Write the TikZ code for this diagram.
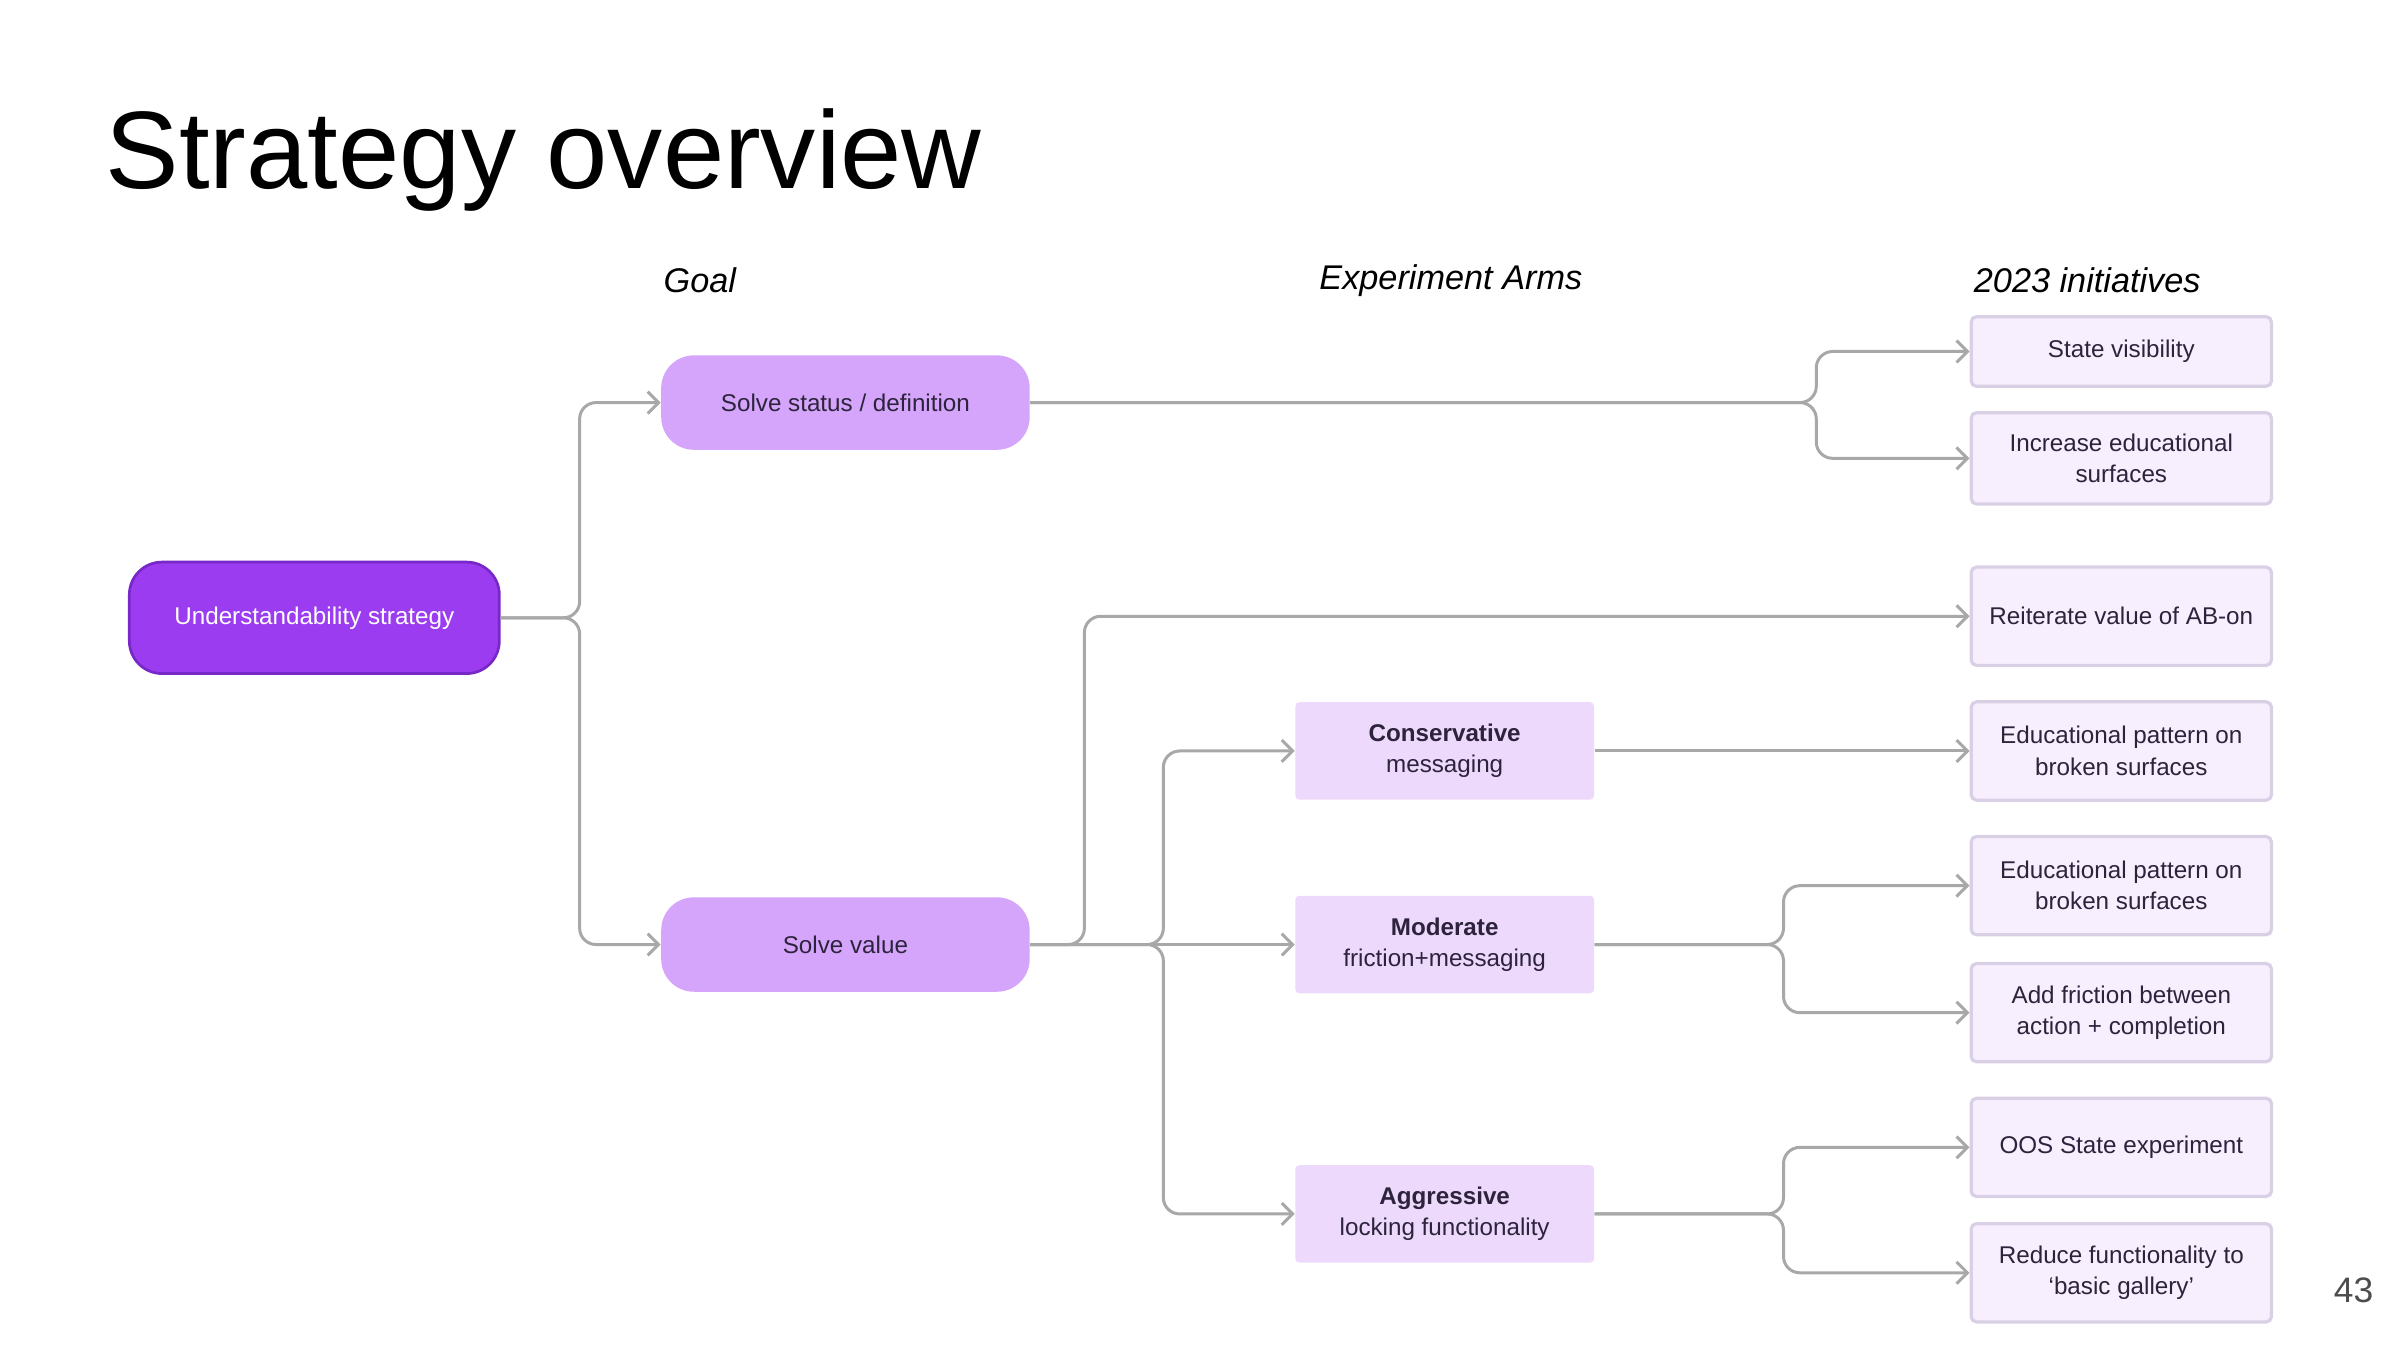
\documentclass[tikz,border=0pt]{standalone}
\usepackage{fontspec}
\setmainfont{Liberation Sans}
\usetikzlibrary{arrows.meta, positioning}
\definecolor{rootpurple}{RGB}{155,60,240}
\definecolor{rootedge}{RGB}{120,40,200}
\definecolor{goalpurple}{RGB}{212,165,250}
\definecolor{armpurple}{RGB}{237,217,251}
\definecolor{initfill}{RGB}{247,239,253}
\definecolor{initedge}{RGB}{218,208,230}
\definecolor{linkgray}{RGB}{168,168,168}
\definecolor{boxtext}{RGB}{45,35,60}
\tikzset{boxtxt/.style={font=\fontsize{8.9}{11.5}\selectfont, text=boxtext, align=center, inner sep=1pt}}
\tikzset{rootbox/.style={boxtxt, text=white, fill=rootpurple, draw=rootedge, line width=1pt, rounded corners=12pt, minimum width=4.78cm, minimum height=1.44cm}}
\tikzset{goalbox/.style={boxtxt, fill=goalpurple, rounded corners=12pt, minimum width=4.76cm, minimum height=1.22cm}}
\tikzset{armbox/.style={boxtxt, fill=armpurple, rounded corners=1.5pt, minimum width=3.86cm, minimum height=1.26cm}}
\tikzset{initbox/.style={boxtxt, fill=initfill, draw=initedge, line width=1.2pt, rounded corners=2pt, minimum width=3.88cm, minimum height=1.27cm}}
\tikzset{header/.style={font=\fontsize{12.6}{14}\selectfont\itshape, inner sep=0pt}}
\tikzset{link/.style={draw=linkgray, line width=1.1pt, rounded corners=6pt, -{Straight Barb[length=4pt, width=8pt]}}}

\begin{document}
\begin{tikzpicture}[x=0.02cm, y=-0.02cm]

  \useasboundingbox (0,0) rectangle (1550,872);

  % --- title and headers ---
  \node[anchor=base west, font=\fontsize{40.5}{44}\selectfont, inner sep=0pt] (title) at (68,122) {Strategy overview};
  \node[header] (hgoal) at (452,181) {Goal};
  \node[header] (harms) at (937,181) {Experiment Arms};
  \node[header] (hinit) at (1348,181) {2023 initiatives};
  \node[font=\fontsize{13}{14}\selectfont, text=black!70, inner sep=0pt] (page) at (1520,833) {43};

  % --- strategy and goals ---
  \node[rootbox] (root) at (203,399) {Understandability strategy};
  \node[goalbox] (status) at (546,260) {Solve status / definition};
  \node[goalbox] (value) at (546,610) {Solve value};

  % --- experiment arms ---
  \node[armbox] (cons) at (933,485) {\textbf{Conservative}\\messaging};
  \node[armbox] (mod) at (933,610) {\textbf{Moderate}\\friction+messaging};
  \node[armbox] (aggr) at (933,784) {\textbf{Aggressive}\\locking functionality};

  % --- 2023 initiatives ---
  \node[initbox, minimum height=0.9cm] (vis) at (1370,227) {State visibility};
  \node[initbox, minimum height=1.18cm] (edusurf) at (1370,296) {Increase educational\\surfaces};
  \node[initbox] (reit) at (1370,398) {Reiterate value of AB-on};
  \node[initbox] (edua) at (1370,485) {Educational pattern on\\broken surfaces};
  \node[initbox] (edub) at (1370,572) {Educational pattern on\\broken surfaces};
  \node[initbox] (fric) at (1370,654) {Add friction between\\action + completion};
  \node[initbox] (oos) at (1370,741) {OOS State experiment};
  \node[initbox] (reduce) at (1370,822) {Reduce functionality to\\‘basic gallery’};

  % --- connectors ---
  \draw[link] (root.east) -- ++(51,0) |- (status.west);
  \draw[link] (root.east) -- ++(51,0) |- (value.west);

  \draw[link] (status.east) -- (1173,260) |- (vis.west);
  \draw[link] (status.east) -- (1173,260) |- (edusurf.west);

  \draw[link] (value.east) -- ++(35,0) |- (reit.west);
  \draw[link] (value.east) -- ++(86,0) |- (cons.west);
  \draw[link] (value.east) -- (mod.west);
  \draw[link] (value.east) -- ++(86,0) |- (aggr.west);

  \draw[link] (cons.east) -- (edua.west);
  \draw[link] (mod.east) -- ++(122,0) |- (edub.west);
  \draw[link] (mod.east) -- ++(122,0) |- (fric.west);
  \draw[link] (aggr.east) -- ++(122,0) |- (oos.west);
  \draw[link] (aggr.east) -- ++(122,0) |- (reduce.west);

\end{tikzpicture}
\end{document}
